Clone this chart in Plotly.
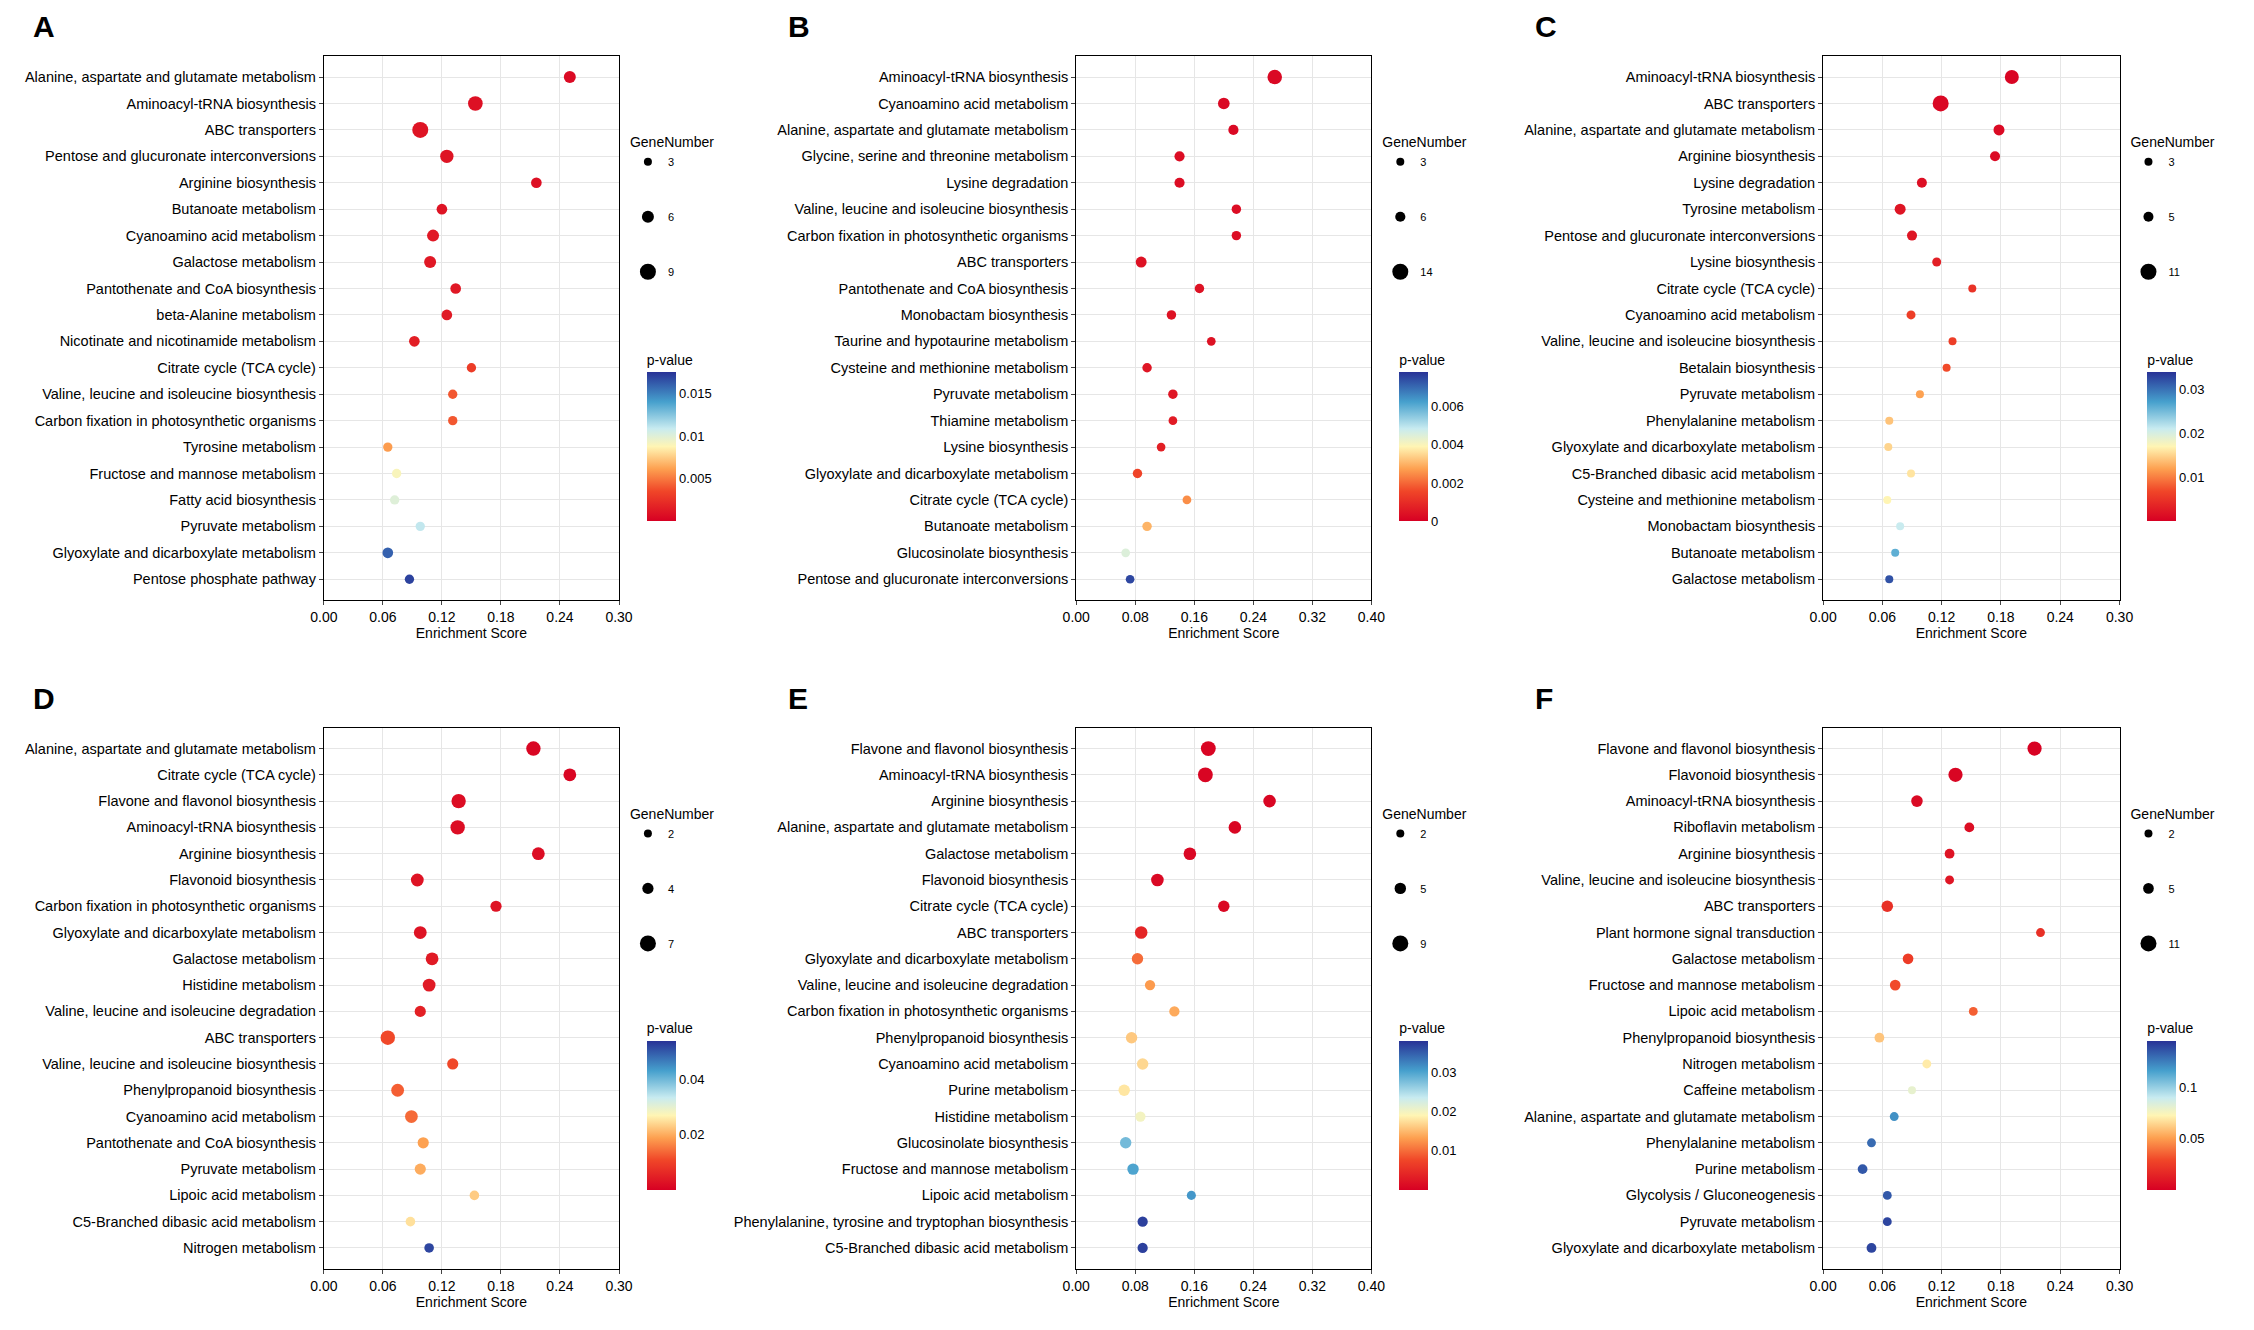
import plotly.graph_objects as go

# ---------------- data ----------------
A_terms = ["Alanine, aspartate and glutamate metabolism","Aminoacyl-tRNA biosynthesis","ABC transporters","Pentose and glucuronate interconversions","Arginine biosynthesis","Butanoate metabolism","Cyanoamino acid metabolism","Galactose metabolism","Pantothenate and CoA biosynthesis","beta-Alanine metabolism","Nicotinate and nicotinamide metabolism","Citrate cycle (TCA cycle)","Valine, leucine and isoleucine biosynthesis","Carbon fixation in photosynthetic organisms","Tyrosine metabolism","Fructose and mannose metabolism","Fatty acid biosynthesis","Pyruvate metabolism","Glyoxylate and dicarboxylate metabolism","Pentose phosphate pathway"]
A_score = [0.250,0.154,0.098,0.125,0.216,0.120,0.111,0.108,0.134,0.125,0.092,0.150,0.131,0.131,0.065,0.074,0.072,0.098,0.065,0.087]
A_genes = [6,8,9,7,5,5,6,6,5,5,5,4,4,4,4,4,4,4,5,4]
A_p = [0.0005,0.0008,0.001,0.001,0.0008,0.001,0.0012,0.0012,0.0012,0.0013,0.0015,0.003,0.004,0.004,0.006,0.009,0.010,0.011,0.016,0.017]

B_terms = ["Aminoacyl-tRNA biosynthesis","Cyanoamino acid metabolism","Alanine, aspartate and glutamate metabolism","Glycine, serine and threonine metabolism","Lysine degradation","Valine, leucine and isoleucine biosynthesis","Carbon fixation in photosynthetic organisms","ABC transporters","Pantothenate and CoA biosynthesis","Monobactam biosynthesis","Taurine and hypotaurine metabolism","Cysteine and methionine metabolism","Pyruvate metabolism","Thiamine metabolism","Lysine biosynthesis","Glyoxylate and dicarboxylate metabolism","Citrate cycle (TCA cycle)","Butanoate metabolism","Glucosinolate biosynthesis","Pentose and glucuronate interconversions"]
B_score = [0.269,0.200,0.213,0.140,0.140,0.217,0.217,0.088,0.167,0.129,0.183,0.096,0.131,0.131,0.115,0.083,0.150,0.096,0.067,0.073]
B_genes = [12,8,6,6,6,5,5,7,5,5,4,5,5,4,4,5,4,5,4,4]
B_p = [0.0002,0.0002,0.0002,0.0003,0.0003,0.0003,0.0003,0.0004,0.0004,0.0004,0.0004,0.0005,0.0005,0.0006,0.0007,0.0015,0.0025,0.003,0.0045,0.0075]

C_terms = ["Aminoacyl-tRNA biosynthesis","ABC transporters","Alanine, aspartate and glutamate metabolism","Arginine biosynthesis","Lysine degradation","Tyrosine metabolism","Pentose and glucuronate interconversions","Lysine biosynthesis","Citrate cycle (TCA cycle)","Cyanoamino acid metabolism","Valine, leucine and isoleucine biosynthesis","Betalain biosynthesis","Pyruvate metabolism","Phenylalanine metabolism","Glyoxylate and dicarboxylate metabolism","C5-Branched dibasic acid metabolism","Cysteine and methionine metabolism","Monobactam biosynthesis","Butanoate metabolism","Galactose metabolism"]
C_score = [0.191,0.119,0.178,0.174,0.100,0.078,0.090,0.115,0.151,0.089,0.131,0.125,0.098,0.067,0.066,0.089,0.065,0.078,0.073,0.067]
C_genes = [9,11,6,5,5,6,5,4,3,4,3,3,3,3,3,3,3,3,3,3]
C_p = [0.0005,0.0008,0.001,0.001,0.0015,0.002,0.002,0.003,0.005,0.006,0.006,0.007,0.012,0.014,0.015,0.016,0.017,0.021,0.026,0.032]

D_terms = ["Alanine, aspartate and glutamate metabolism","Citrate cycle (TCA cycle)","Flavone and flavonol biosynthesis","Aminoacyl-tRNA biosynthesis","Arginine biosynthesis","Flavonoid biosynthesis","Carbon fixation in photosynthetic organisms","Glyoxylate and dicarboxylate metabolism","Galactose metabolism","Histidine metabolism","Valine, leucine and isoleucine degradation","ABC transporters","Valine, leucine and isoleucine biosynthesis","Phenylpropanoid biosynthesis","Cyanoamino acid metabolism","Pantothenate and CoA biosynthesis","Pyruvate metabolism","Lipoic acid metabolism","C5-Branched dibasic acid metabolism","Nitrogen metabolism"]
D_score = [0.213,0.250,0.137,0.136,0.218,0.095,0.175,0.098,0.110,0.107,0.098,0.065,0.131,0.075,0.089,0.101,0.098,0.153,0.088,0.107]
D_genes = [6,5,6,6,5,5,4,5,5,5,4,6,4,5,5,4,4,3,3,3]
D_p = [0.001,0.001,0.002,0.002,0.002,0.003,0.003,0.003,0.004,0.004,0.005,0.011,0.011,0.013,0.014,0.019,0.020,0.023,0.025,0.052]

E_terms = ["Flavone and flavonol biosynthesis","Aminoacyl-tRNA biosynthesis","Arginine biosynthesis","Alanine, aspartate and glutamate metabolism","Galactose metabolism","Flavonoid biosynthesis","Citrate cycle (TCA cycle)","ABC transporters","Glyoxylate and dicarboxylate metabolism","Valine, leucine and isoleucine degradation","Carbon fixation in photosynthetic organisms","Phenylpropanoid biosynthesis","Cyanoamino acid metabolism","Purine metabolism","Histidine metabolism","Glucosinolate biosynthesis","Fructose and mannose metabolism","Lipoic acid metabolism","Phenylalanine, tyrosine and tryptophan biosynthesis","C5-Branched dibasic acid metabolism"]
E_score = [0.179,0.175,0.262,0.215,0.154,0.110,0.200,0.088,0.083,0.100,0.133,0.075,0.090,0.065,0.087,0.067,0.077,0.156,0.090,0.090]
E_genes = [8,8,6,6,6,6,5,6,5,4,4,5,5,5,4,5,5,3,4,4]
E_p = [0.0005,0.0005,0.0006,0.0007,0.0008,0.001,0.001,0.004,0.010,0.013,0.014,0.016,0.017,0.018,0.020,0.028,0.030,0.031,0.037,0.037]

F_terms = ["Flavone and flavonol biosynthesis","Flavonoid biosynthesis","Aminoacyl-tRNA biosynthesis","Riboflavin metabolism","Arginine biosynthesis","Valine, leucine and isoleucine biosynthesis","ABC transporters","Plant hormone signal transduction","Galactose metabolism","Fructose and mannose metabolism","Lipoic acid metabolism","Phenylpropanoid biosynthesis","Nitrogen metabolism","Caffeine metabolism","Alanine, aspartate and glutamate metabolism","Phenylalanine metabolism","Purine metabolism","Glycolysis / Gluconeogenesis","Pyruvate metabolism","Glyoxylate and dicarboxylate metabolism"]
F_score = [0.214,0.134,0.095,0.148,0.128,0.128,0.065,0.220,0.086,0.073,0.152,0.057,0.105,0.090,0.072,0.049,0.040,0.065,0.065,0.049]
F_genes = [9,9,6,4,4,3,6,3,5,5,3,4,3,2,3,3,4,3,3,4]
F_p = [0.001,0.002,0.004,0.006,0.008,0.009,0.020,0.020,0.025,0.030,0.035,0.060,0.070,0.080,0.120,0.130,0.135,0.135,0.140,0.140]

panels = [
    ("A", A_terms, A_score, A_genes, A_p, [3, 6, 9], 0.30, 0.06, 0.0175, [0.005, 0.01, 0.015]),
    ("B", B_terms, B_score, B_genes, B_p, [3, 6, 14], 0.40, 0.08, 0.0078, [0, 0.002, 0.004, 0.006]),
    ("C", C_terms, C_score, C_genes, C_p, [3, 5, 11], 0.30, 0.06, 0.034, [0.01, 0.02, 0.03]),
    ("D", D_terms, D_score, D_genes, D_p, [2, 4, 7], 0.30, 0.06, 0.054, [0.02, 0.04]),
    ("E", E_terms, E_score, E_genes, E_p, [2, 5, 9], 0.40, 0.08, 0.038, [0.01, 0.02, 0.03]),
    ("F", F_terms, F_score, F_genes, F_p, [2, 5, 11], 0.30, 0.06, 0.145, [0.05, 0.1]),
]

W, H = 2254, 1330
xdoms = [(0.1356, 0.2682), (0.4736, 0.6062), (0.8091, 0.9423)]
ydoms = [(0.5546, 0.9640), (0.0519, 0.4590)]
letter_x = [0.004, 0.343, 0.679]

FONT = "Liberation Sans, Arial, sans-serif"
SCALE = [[0, "rgb(215,0,35)"], [0.2, "rgb(240,70,40)"], [0.35, "rgb(253,160,80)"],
         [0.5, "rgb(255,245,180)"], [0.62, "rgb(200,235,240)"], [0.8, "rgb(70,160,205)"],
         [1, "rgb(40,50,150)"]]
fig = go.Figure()

def msize(n, lo, hi):
    return 8 + (n - lo) / (hi - lo) * 8

for i, (lab, terms, score, genes, pv, leg, xmax, dt, cmax, cticks) in enumerate(panels):
    r, c = divmod(i, 3)
    ax = "" if i == 0 else str(i + 1)
    xd, yd = xdoms[c], ydoms[r]
    lo, hi = leg[0], leg[-1]
    fig.add_trace(go.Scatter(
        x=score, y=terms, mode="markers", xaxis="x" + ax, yaxis="y" + ax,
        showlegend=False,
        marker=dict(size=[msize(g, lo, hi) for g in genes], color=pv, opacity=1,
                    colorscale=SCALE, cmin=0, cmax=cmax, line=dict(width=0),
                    colorbar=dict(x=xd[1] + 0.008, xanchor="left", y=yd[0] + 0.052,
                                  yanchor="bottom", len=190, lenmode="pixels",
                                  thickness=29, outlinewidth=0, tickvals=cticks,
                                  tickfont=dict(size=13, family=FONT),
                                  title=dict(text="p-value", side="top",
                                             font=dict(size=14, family=FONT))))))
    lname = "legend" if i == 0 else "legend" + str(i + 1)
    for k, g in enumerate(leg):
        fig.add_trace(go.Scatter(x=[None], y=[None], mode="markers", name=str(g),
                                 xaxis="x" + ax, yaxis="y" + ax, legend=lname,
                                 legendgroup=lab + str(k),
                                 marker=dict(size=msize(g, lo, hi), color="black")))
    fig.update_layout(**{
        "xaxis" + ax: dict(domain=list(xd), anchor="y" + ax, range=[0, xmax], dtick=dt,
                           tickformat=".2f", showline=True, mirror=True, linecolor="black",
                           gridcolor="#e6e6e6", ticks="outside", ticklen=4, zeroline=False,
                           tickfont=dict(size=14, family=FONT),
                           title=dict(text="Enrichment Score", standoff=2,
                                      font=dict(size=14, family=FONT))),
        "yaxis" + ax: dict(domain=list(yd), anchor="x" + ax, type="category",
                           categoryorder="array", categoryarray=terms[::-1],
                           range=[-0.8, len(terms) - 0.2],
                           showline=True, mirror=True, linecolor="black",
                           gridcolor="#e6e6e6", ticks="outside", ticklen=4,
                           tickfont=dict(size=14.5, family=FONT)),
        lname: dict(title=dict(text="GeneNumber", font=dict(size=14, family=FONT)),
                    x=xd[1] + 0.004, xanchor="left", y=yd[1] - 0.055, yanchor="top",
                    bgcolor="rgba(0,0,0,0)", tracegroupgap=36,
                    font=dict(size=11, family=FONT), itemsizing="trace"),
    })
    fig.add_annotation(text="<b>" + lab + "</b>", x=letter_x[c], y=yd[1] + 0.022,
                       xref="paper", yref="paper", xanchor="left", yanchor="middle",
                       showarrow=False, font=dict(size=30, family=FONT, color="black"))

fig.update_layout(width=W, height=H, plot_bgcolor="white", paper_bgcolor="white",
                  margin=dict(l=0, r=0, t=0, b=0), font=dict(family=FONT, color="black"))
fig.write_html("out.html")
